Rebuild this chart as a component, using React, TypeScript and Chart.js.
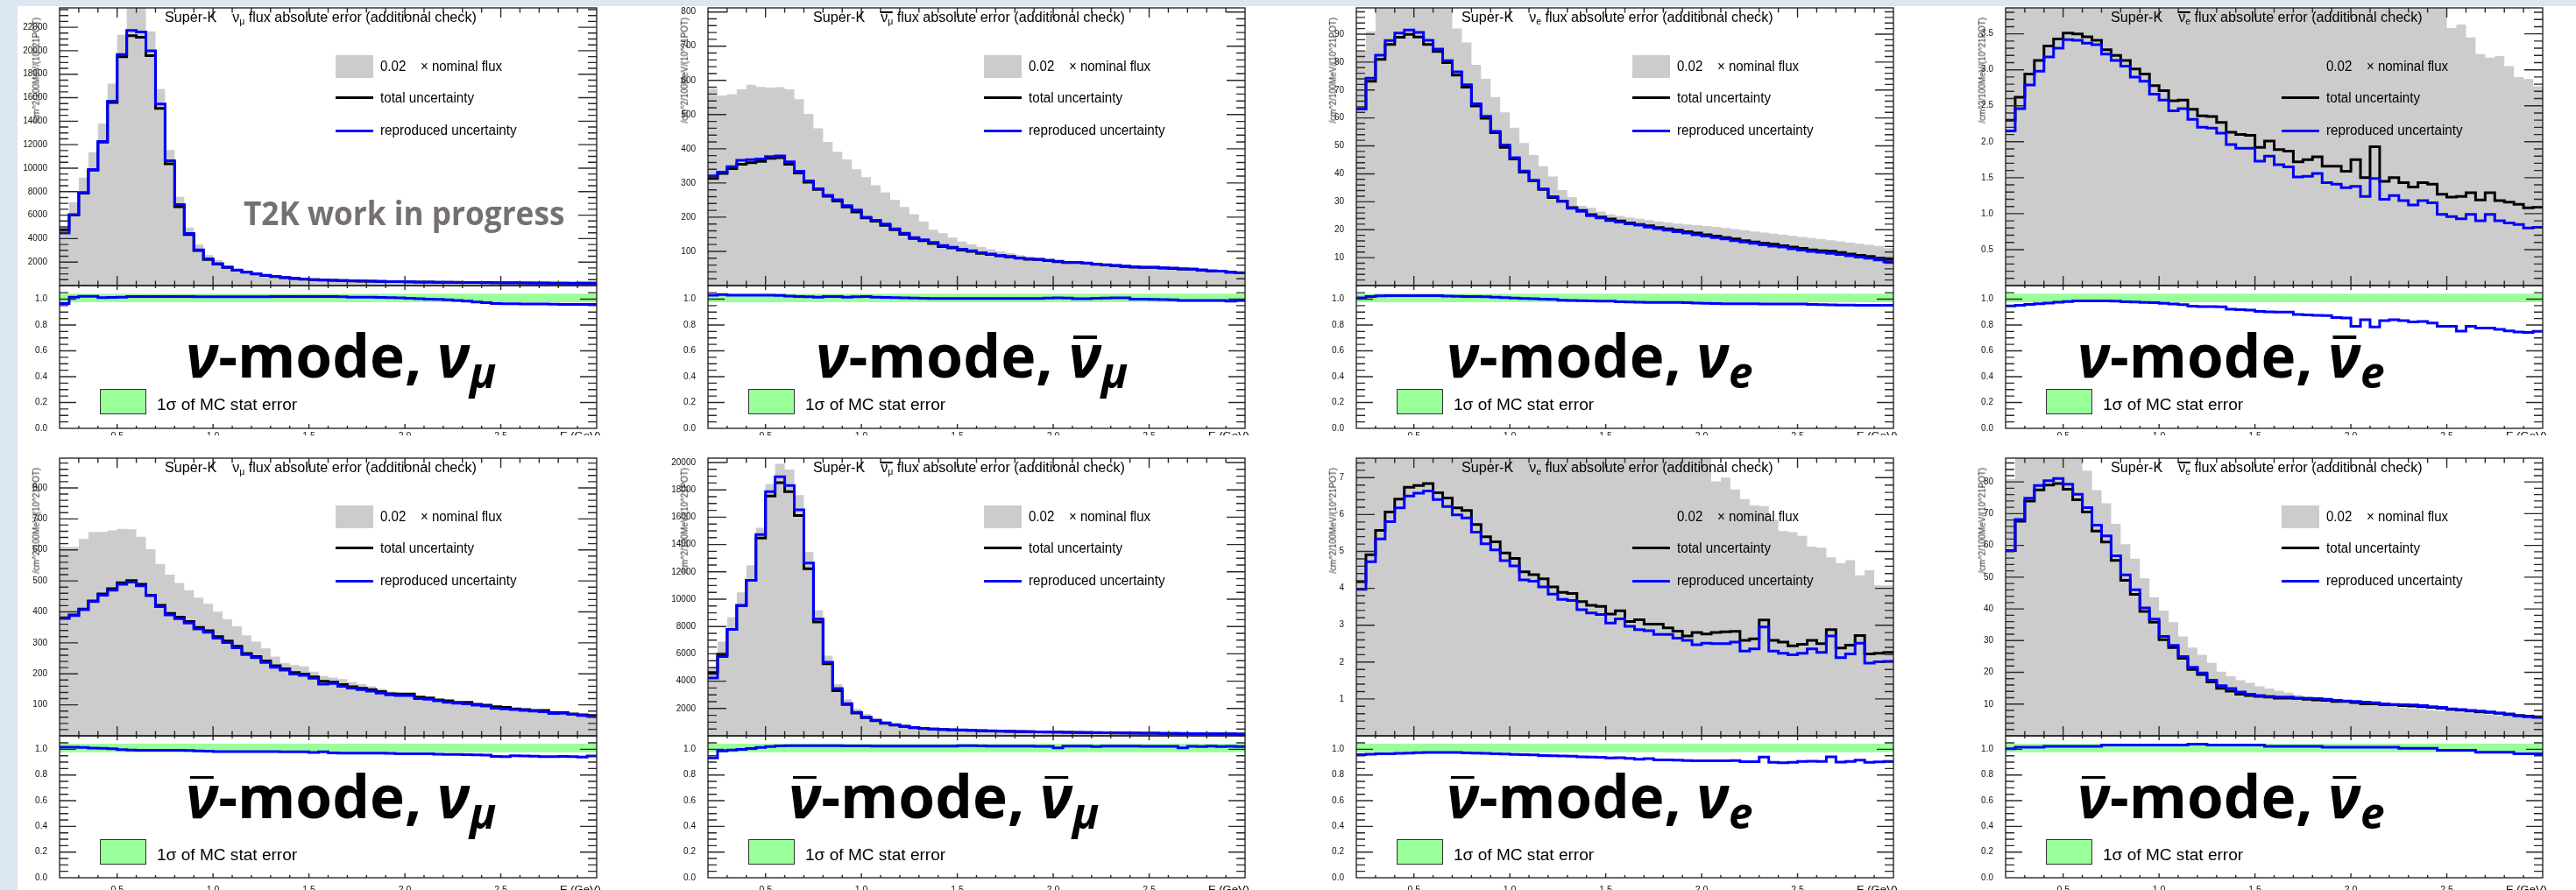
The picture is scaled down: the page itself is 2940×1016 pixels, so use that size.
import React, { useEffect, useLayoutEffect, useRef } from 'react';
import { Chart, registerables } from 'chart.js';

Chart.register(...registerables);

// ---------------- data ----------------
const BIN_LOW_EDGES = [
  0.2, 0.25, 0.3, 0.35, 0.4, 0.45, 0.5, 0.55, 0.6, 0.65,
  0.7, 0.75, 0.8, 0.85, 0.9, 0.95, 1.0, 1.05, 1.1, 1.15,
  1.2, 1.25, 1.3, 1.35, 1.4, 1.45, 1.5, 1.55, 1.6, 1.65,
  1.7, 1.75, 1.8, 1.85, 1.9, 1.95, 2.0, 2.05, 2.1, 2.15,
  2.2, 2.25, 2.3, 2.35, 2.4, 2.45, 2.5, 2.55, 2.6, 2.65,
  2.7, 2.75, 2.8, 2.85, 2.9, 2.95,
];
const X_UPPER_EDGE = 3.0;
const X_MAJOR_TICKS = [0.5, 1.0, 1.5, 2.0, 2.5];
const X_TICK_LABELS = ['0.5', '1.0', '1.5', '2.0', '2.5'];
const X_MINOR_TICKS = [0.3, 0.4, 0.6, 0.7, 0.8, 0.9, 1.1, 1.2, 1.3, 1.4, 1.6, 1.7, 1.8, 1.9, 2.1, 2.2, 2.3, 2.4, 2.6, 2.7, 2.8, 2.9];
const RATIO_Y_TICKS = [0, 0.2, 0.4, 0.6, 0.8, 1.0];
const RATIO_Y_MAX = 1.105;
const MC_STAT_BAND = [0.977, 1.043];

// nu-mode, nu_mu
const FHC_NUMU_NOMINAL = [5000, 7100, 9200, 11350, 13800, 17200, 21350, 24500, 24000, 21650, 16750, 11550, 7550, 4950, 3500, 2600, 2170, 1730, 1380, 1140, 940, 850, 760, 680, 610, 560, 520, 490, 460, 435, 415, 395, 378, 362, 348, 335, 322, 312, 302, 293, 284, 276, 268, 260, 253, 246, 240, 234, 228, 222, 216, 211, 206, 201, 196, 192];
const FHC_NUMU_TOTAL = [4750, 6000, 7880, 9830, 12220, 15600, 19500, 21280, 21160, 19580, 15080, 10370, 6720, 4350, 2990, 2220, 1830, 1540, 1300, 1130, 980, 860, 760, 670, 600, 545, 500, 470, 445, 420, 400, 382, 366, 352, 339, 327, 316, 306, 297, 288, 280, 272, 265, 258, 252, 246, 240, 234, 228, 222, 217, 212, 207, 203, 205, 205];
const FHC_NUMU_REPRO = [4470, 6050, 7930, 9880, 12270, 15700, 19680, 21730, 21600, 20000, 15460, 10640, 6910, 4440, 3040, 2270, 1860, 1570, 1320, 1150, 1000, 875, 775, 683, 612, 556, 510, 479, 453, 428, 407, 388, 371, 357, 343, 331, 318, 307, 297, 287, 278, 269, 261, 254, 246, 239, 232, 226, 220, 214, 209, 204, 199, 195, 197, 197];
const FHC_NUMU_RATIO = [0.966, 1.016, 1.022, 1.022, 1.011, 1.014, 1.016, 1.02, 1.02, 1.02, 1.02, 1.02, 1.02, 1.02, 1.018, 1.018, 1.018, 1.018, 1.018, 1.018, 1.018, 1.018, 1.02, 1.02, 1.02, 1.02, 1.02, 1.02, 1.02, 1.018, 1.016, 1.016, 1.016, 1.014, 1.012, 1.01, 1.006, 1.004, 1.0, 0.998, 0.995, 0.99, 0.985, 0.978, 0.972, 0.966, 0.964, 0.964, 0.963, 0.962, 0.962, 0.961, 0.96, 0.96, 0.96, 0.96];
const FHC_NUMU_Y_TICKS = [2000, 4000, 6000, 8000, 10000, 12000, 14000, 16000, 18000, 20000, 22000];

// nu-mode, nu_mu-bar
const FHC_NUMUBAR_NOMINAL = [575, 556, 560, 574, 587, 581, 579, 580, 574, 545, 502, 460, 420, 391, 369, 340, 317, 293, 272, 251, 230, 209, 187, 163, 153, 140, 129, 121, 113, 106, 100, 95, 89, 85, 80, 77, 74, 71, 68, 66, 64, 62, 60, 58, 56, 55, 54, 53, 52, 51, 49, 47, 45, 43, 41, 38];
const FHC_NUMUBAR_TOTAL = [313, 328, 342, 355, 359, 363, 372, 374, 355, 329, 302, 281, 261, 247, 230, 215, 198, 188, 176, 163, 150, 138, 131, 123, 114, 110, 104, 100, 94, 91, 87, 84, 80, 77, 76, 73, 70, 67, 67, 65, 62, 60, 58, 56, 54, 53, 53, 51, 50, 48, 48, 45, 43, 42, 39, 37];
const FHC_NUMUBAR_REPRO = [321, 332, 348, 366, 368, 370, 377, 379, 362, 334, 306, 283, 264, 251, 234, 221, 200, 191, 180, 166, 153, 140, 134, 126, 117, 112, 106, 102, 96, 92, 88, 85, 81, 78, 77, 74, 71, 68, 68, 66, 63, 61, 59, 57, 55, 54, 54, 52, 51, 49, 48, 46, 43, 42, 39, 37];
const FHC_NUMUBAR_RATIO = [1.03, 1.035, 1.03, 1.03, 1.03, 1.03, 1.03, 1.028, 1.024, 1.02, 1.018, 1.016, 1.02, 1.02, 1.016, 1.018, 1.02, 1.016, 1.014, 1.012, 1.01, 1.008, 1.006, 1.005, 1.005, 1.005, 1.005, 1.005, 1.005, 1.005, 1.005, 1.005, 1.005, 1.005, 1.005, 1.008, 1.01, 1.008, 1.004, 1.004, 1.006, 1.008, 1.01, 1.01, 1.0, 1.0, 0.998, 0.996, 0.994, 0.99, 0.99, 0.99, 0.99, 0.99, 0.985, 0.99];
const FHC_NUMUBAR_Y_TICKS = [100, 200, 300, 400, 500, 600, 700, 800];

// nu-mode, nu_e
const FHC_NUE_NOMINAL = [84, 91, 104, 110, 112, 112, 110, 106, 102, 100, 92, 87, 79, 74, 67.5, 62, 56.5, 51, 46.7, 42.7, 39, 34.2, 31.7, 28.5, 27.8, 26.5, 25.5, 24.9, 24.4, 23.9, 23.4, 23, 22.6, 22.2, 21.9, 21.6, 21.3, 21, 20.6, 20.2, 19.8, 19.4, 19, 18.6, 18.2, 17.8, 17.4, 17, 16.6, 16.2, 15.8, 15.4, 15, 14.6, 14.2, 13.4];
const FHC_NUE_TOTAL = [63.3, 73.1, 81, 86.3, 88.9, 89.9, 89, 86.3, 83.8, 79.8, 75.3, 71, 64.3, 59.9, 54.7, 49.5, 45.3, 40.6, 37.5, 34.4, 31.5, 30.2, 27.9, 26.9, 25.4, 24.5, 23.8, 23.1, 22.4, 21.9, 21.4, 20.8, 20.3, 19.8, 19.3, 18.8, 18.2, 17.7, 17.2, 16.7, 16.1, 15.6, 15.1, 14.8, 14.3, 13.8, 13.3, 12.8, 12.5, 12.3, 11.8, 11.3, 10.8, 10.4, 9.9, 9.4];
const FHC_NUE_REPRO = [63.3, 74.2, 82.5, 87.7, 90.4, 91.5, 90.6, 87.8, 84.7, 80.5, 76.5, 71.9, 65.1, 60.6, 55.2, 50.3, 45.8, 41, 37.7, 34.6, 31.8, 30.2, 27.7, 26.6, 25, 24.2, 23.3, 22.7, 22.1, 21.6, 20.9, 20.4, 19.8, 19.3, 18.8, 18.2, 17.7, 17.2, 16.7, 16.1, 15.6, 15.1, 14.6, 14.1, 13.8, 13.2, 12.7, 12.2, 11.9, 11.5, 11.1, 10.7, 10.2, 9.8, 9.2, 8.5];
const FHC_NUE_RATIO = [1.01, 1.02, 1.026, 1.027, 1.027, 1.027, 1.027, 1.027, 1.027, 1.024, 1.022, 1.02, 1.02, 1.018, 1.016, 1.012, 1.008, 1.005, 1.003, 1.0, 0.998, 0.992, 0.99, 0.988, 0.986, 0.985, 0.985, 0.98, 0.978, 0.976, 0.975, 0.975, 0.975, 0.974, 0.972, 0.97, 0.968, 0.966, 0.965, 0.965, 0.964, 0.964, 0.963, 0.962, 0.962, 0.962, 0.962, 0.96, 0.958, 0.956, 0.955, 0.954, 0.952, 0.952, 0.952, 0.952];
const FHC_NUE_Y_TICKS = [10, 20, 30, 40, 50, 60, 70, 80, 90];

// nu-mode, nu_e-bar
const FHC_NUEBAR_NOMINAL = [6.0, 7.2, 8.2, 8.8, 9.1, 9.2, 9.1, 8.9, 8.6, 8.2, 7.8, 7.4, 7.0, 6.7, 6.4, 6.1, 5.8, 5.6, 5.4, 5.2, 5.0, 4.9, 4.8, 4.7, 4.6, 4.5, 4.45, 4.4, 4.35, 4.3, 4.25, 4.2, 4.15, 4.1, 4.05, 4.0, 3.98, 3.96, 3.94, 3.92, 3.92, 3.92, 3.92, 3.92, 3.92, 3.92, 3.58, 3.63, 3.45, 3.22, 3.17, 3.19, 3.05, 2.9, 2.87, 2.77];
const FHC_NUEBAR_TOTAL = [2.30, 2.62, 2.94, 3.13, 3.33, 3.43, 3.51, 3.50, 3.46, 3.41, 3.28, 3.20, 3.13, 3.01, 2.94, 2.78, 2.71, 2.57, 2.58, 2.45, 2.36, 2.35, 2.27, 2.13, 2.10, 2.09, 1.92, 2.01, 1.89, 1.87, 1.72, 1.75, 1.79, 1.66, 1.66, 1.59, 1.75, 1.50, 1.93, 1.45, 1.50, 1.43, 1.37, 1.43, 1.41, 1.27, 1.23, 1.24, 1.29, 1.19, 1.29, 1.18, 1.16, 1.13, 1.08, 1.09];
const FHC_NUEBAR_REPRO = [2.15, 2.46, 2.79, 2.98, 3.18, 3.30, 3.42, 3.41, 3.37, 3.35, 3.22, 3.13, 3.05, 2.90, 2.84, 2.66, 2.58, 2.43, 2.46, 2.31, 2.20, 2.19, 2.12, 1.96, 1.91, 1.91, 1.73, 1.80, 1.68, 1.65, 1.51, 1.52, 1.56, 1.43, 1.41, 1.36, 1.38, 1.24, 1.49, 1.20, 1.25, 1.18, 1.12, 1.18, 1.15, 0.99, 0.96, 0.93, 0.99, 0.90, 0.99, 0.90, 0.87, 0.85, 0.80, 0.81];
const FHC_NUEBAR_RATIO = [0.948, 0.952, 0.959, 0.964, 0.97, 0.977, 0.982, 0.986, 0.986, 0.986, 0.986, 0.984, 0.98, 0.978, 0.975, 0.972, 0.968, 0.962, 0.958, 0.945, 0.943, 0.943, 0.94, 0.922, 0.918, 0.915, 0.905, 0.902, 0.9, 0.9, 0.882, 0.878, 0.875, 0.872, 0.858, 0.855, 0.79, 0.84, 0.785, 0.834, 0.841, 0.834, 0.823, 0.827, 0.816, 0.79, 0.79, 0.752, 0.79, 0.777, 0.777, 0.766, 0.755, 0.745, 0.743, 0.75];
const FHC_NUEBAR_Y_TICKS = [0.5, 1.0, 1.5, 2.0, 2.5, 3.0, 3.5];

// nubar-mode, nu_mu
const RHC_NUMU_NOMINAL = [610, 610, 635, 658, 658, 663, 668, 666, 642, 602, 555, 520, 493, 470, 446, 426, 401, 376, 353, 324, 304, 282, 256, 235, 228, 224, 207, 193, 188, 183, 174, 167, 160, 152, 143, 139, 134, 125, 121, 116, 112, 108, 105, 101, 98, 94, 91, 87, 84, 81, 79, 75, 73, 70, 67, 64];
const RHC_NUMU_TOTAL = [381, 390, 409, 435, 458, 475, 494, 501, 489, 454, 421, 395, 383, 369, 350, 339, 320, 306, 289, 266, 256, 242, 226, 216, 204, 199, 190, 176, 173, 165, 158, 153, 149, 143, 136, 135, 135, 125, 122, 116, 113, 108, 108, 102, 99, 94, 92, 87, 85, 82, 82, 75, 75, 71, 68, 66];
const RHC_NUMU_REPRO = [379, 388, 407, 433, 454, 470, 489, 496, 484, 452, 417, 390, 378, 364, 345, 334, 315, 301, 284, 262, 252, 237, 221, 212, 199, 195, 186, 167, 169, 160, 154, 149, 144, 138, 132, 130, 130, 120, 118, 113, 108, 105, 103, 99, 96, 89, 87, 85, 82, 80, 78, 72, 73, 69, 66, 63];
const RHC_NUMU_RATIO = [1.016, 1.016, 1.014, 1.01, 1.007, 1.005, 0.998, 0.995, 0.993, 0.993, 0.993, 0.993, 0.993, 0.99, 0.988, 0.985, 0.982, 0.982, 0.982, 0.982, 0.982, 0.982, 0.982, 0.98, 0.98, 0.98, 0.975, 0.98, 0.972, 0.971, 0.971, 0.971, 0.971, 0.97, 0.968, 0.966, 0.966, 0.966, 0.965, 0.962, 0.96, 0.96, 0.958, 0.956, 0.955, 0.945, 0.943, 0.95, 0.948, 0.946, 0.943, 0.943, 0.945, 0.943, 0.939, 0.948];
const RHC_NUMU_Y_TICKS = [100, 200, 300, 400, 500, 600, 700, 800];

// nubar-mode, nu_mu-bar
const RHC_NUMUBAR_NOMINAL = [5017, 6896, 8689, 10504, 12490, 15223, 18425, 19898, 19492, 17614, 13451, 9181, 5871, 3779, 2669, 1964, 1601, 1281, 1068, 897, 747, 640, 560, 510, 475, 450, 428, 405, 385, 366, 349, 334, 320, 307, 295, 284, 273, 263, 254, 245, 236, 228, 220, 212, 205, 198, 191, 184, 177, 171, 165, 159, 153, 147, 141, 135];
const RHC_NUMUBAR_TOTAL = [4633, 5978, 7793, 9543, 11380, 14475, 17550, 18532, 17870, 16119, 12234, 8326, 5273, 3309, 2284, 1665, 1324, 1110, 918, 790, 683, 600, 535, 490, 458, 435, 415, 393, 374, 356, 340, 325, 312, 299, 288, 277, 266, 256, 247, 238, 230, 222, 214, 207, 200, 193, 186, 180, 174, 168, 162, 156, 150, 144, 138, 132];
const RHC_NUMUBAR_REPRO = [4227, 5807, 7793, 9543, 11380, 14731, 17870, 18959, 18318, 16546, 12639, 8540, 5380, 3459, 2348, 1710, 1360, 1138, 941, 810, 700, 615, 548, 502, 469, 446, 426, 403, 383, 365, 348, 333, 320, 306, 295, 284, 269, 262, 253, 244, 236, 227, 219, 212, 205, 198, 191, 184, 178, 170, 166, 160, 154, 147, 141, 135];
const RHC_NUMUBAR_RATIO = [0.932, 0.988, 0.995, 1.0, 1.006, 1.014, 1.022, 1.027, 1.028, 1.028, 1.028, 1.028, 1.028, 1.028, 1.026, 1.026, 1.026, 1.025, 1.025, 1.025, 1.025, 1.025, 1.025, 1.025, 1.025, 1.025, 1.028, 1.028, 1.026, 1.025, 1.025, 1.025, 1.025, 1.025, 1.024, 1.024, 1.012, 1.025, 1.025, 1.025, 1.022, 1.025, 1.025, 1.025, 1.025, 1.024, 1.024, 1.024, 1.024, 1.012, 1.024, 1.022, 1.025, 1.022, 1.024, 1.022];
const RHC_NUMUBAR_Y_TICKS = [2000, 4000, 6000, 8000, 10000, 12000, 14000, 16000, 18000, 20000];

// nubar-mode, nu_e
const RHC_NUE_NOMINAL = [10, 12, 13.5, 14.5, 15, 15.2, 15, 14.6, 14, 13.4, 12.8, 12.2, 11.6, 11.1, 10.6, 10.2, 9.9, 9.6, 9.4, 9.2, 9.0, 8.8, 8.7, 8.6, 8.5, 8.4, 8.3, 8.2, 8.1, 8.0, 7.95, 7.9, 7.85, 7.8, 7.75, 7.7, 7.65, 6.9, 7.0, 6.68, 6.42, 6.25, 6.23, 5.85, 5.55, 5.52, 5.42, 5.13, 5.1, 4.84, 4.68, 4.76, 4.35, 4.49, 4.08, 4.08];
const RHC_NUE_TOTAL = [4.18, 4.91, 5.57, 6.07, 6.42, 6.74, 6.79, 6.84, 6.59, 6.45, 6.18, 6.11, 5.73, 5.40, 5.26, 4.96, 4.81, 4.45, 4.37, 4.26, 4.04, 3.89, 3.86, 3.64, 3.54, 3.51, 3.30, 3.39, 3.10, 3.15, 3.03, 3.03, 2.93, 2.84, 2.71, 2.80, 2.76, 2.80, 2.82, 2.83, 2.59, 2.63, 3.14, 2.59, 2.54, 2.44, 2.48, 2.59, 2.50, 2.88, 2.38, 2.46, 2.72, 2.22, 2.24, 2.26];
const RHC_NUE_REPRO = [3.97, 4.72, 5.34, 5.81, 6.18, 6.50, 6.58, 6.64, 6.41, 6.22, 5.99, 5.91, 5.52, 5.21, 5.04, 4.75, 4.61, 4.23, 4.19, 4.04, 3.84, 3.70, 3.67, 3.42, 3.33, 3.29, 3.06, 3.17, 2.97, 2.88, 2.85, 2.75, 2.75, 2.65, 2.59, 2.47, 2.51, 2.50, 2.50, 2.54, 2.30, 2.36, 2.95, 2.30, 2.24, 2.20, 2.24, 2.36, 2.26, 2.71, 2.12, 2.22, 2.51, 1.97, 2.01, 2.02];
const RHC_NUE_RATIO = [0.959, 0.962, 0.966, 0.966, 0.968, 0.97, 0.973, 0.975, 0.975, 0.975, 0.975, 0.972, 0.97, 0.968, 0.966, 0.964, 0.96, 0.958, 0.956, 0.952, 0.95, 0.948, 0.946, 0.942, 0.94, 0.938, 0.932, 0.934, 0.93, 0.922, 0.928, 0.918, 0.918, 0.916, 0.912, 0.91, 0.91, 0.91, 0.91, 0.912, 0.904, 0.903, 0.94, 0.898, 0.896, 0.898, 0.905, 0.908, 0.905, 0.942, 0.9, 0.905, 0.915, 0.898, 0.902, 0.905];
const RHC_NUE_Y_TICKS = [1, 2, 3, 4, 5, 6, 7];

// nubar-mode, nu_e-bar
const RHC_NUEBAR_NOMINAL = [80.9, 92, 98, 101, 102, 100, 96, 92, 83.6, 77.4, 73.3, 66.8, 60.4, 55.8, 49.6, 43.7, 39.5, 35.8, 31.3, 27.8, 25.5, 23, 20.2, 18.8, 17.5, 16.7, 15.6, 14.9, 14.2, 13.6, 12.9, 12.4, 12.0, 11.6, 11.2, 10.8, 10.4, 10.0, 9.7, 9.4, 9.1, 8.9, 8.6, 8.4, 8.1, 7.9, 7.6, 7.4, 7.1, 6.9, 6.7, 6.5, 6.2, 6.0, 5.8, 5.6];
const RHC_NUEBAR_TOTAL = [58.4, 67.6, 74, 77.5, 79, 79.5, 77.7, 74.4, 70.5, 64.5, 61.1, 55.3, 49, 44.6, 39.2, 35.8, 30.3, 27.8, 24.4, 20.9, 19.3, 17, 15, 14.1, 13.1, 12.7, 12.4, 12.2, 11.9, 11.9, 11.8, 11.5, 11.3, 11.2, 10.8, 10.8, 10.5, 10.1, 10.1, 9.8, 9.7, 9.5, 9.4, 9.2, 9.0, 8.7, 8.3, 8.1, 7.8, 7.5, 7.4, 7.1, 6.7, 6.4, 6.2, 6.0];
const RHC_NUEBAR_REPRO = [58.4, 68.2, 74.9, 78.9, 80.4, 81.1, 79.3, 76.1, 71.9, 66.4, 63, 56.7, 50.7, 46, 40.3, 36.8, 31.3, 28.5, 25, 21.6, 19.8, 17.5, 15.8, 14.9, 13.8, 13.1, 12.7, 12.4, 12.2, 12.2, 11.9, 11.8, 11.7, 11.5, 11.2, 11.0, 10.8, 10.6, 10.4, 10.1, 9.9, 9.8, 9.7, 9.5, 9.2, 9.0, 8.5, 8.3, 8.0, 7.8, 7.5, 7.2, 6.9, 6.3, 6.0, 5.8];
const RHC_NUEBAR_RATIO = [1.005, 1.016, 1.016, 1.016, 1.023, 1.023, 1.023, 1.023, 1.023, 1.023, 1.034, 1.034, 1.034, 1.034, 1.034, 1.034, 1.034, 1.034, 1.034, 1.041, 1.041, 1.034, 1.034, 1.034, 1.034, 1.034, 1.034, 1.023, 1.023, 1.023, 1.023, 1.023, 1.023, 1.016, 1.016, 1.016, 1.016, 1.016, 1.016, 1.016, 1.016, 1.007, 1.007, 1.007, 1.007, 0.993, 0.993, 0.993, 0.993, 0.977, 0.977, 0.977, 0.977, 0.966, 0.966, 0.966];
const RHC_NUEBAR_Y_TICKS = [10, 20, 30, 40, 50, 60, 70, 80];

// ---------------- styling / geometry ----------------
const LIGHT_BLUE = '#dde7f3';
const SANS = '"Liberation Sans", Arial, Helvetica, sans-serif';
const BIG = '"Open Sans", "Noto Sans", sans-serif';
const SANS_ASC = 0.8465;
const BIG_ASC = 0.888;
const GRAY = '#cccccc';
const GREEN = '#99ff99';
const BLUE = '#0000ff';

const COL_X = [68, 808, 1548, 2289];
const FRAME_W = 613;
const AXIS_W = 60;
const ROW_GEOM = [
  { top: 9, split: 326, bottom: 489, clip: 497, xBase: 12, labelBase: 105.5 },
  { top: 523, split: 840, bottom: 1002, clip: 1016, xBase: 17, labelBase: 94 },
];

const PANELS = [
  { id: 'fhc-numu', col: 0, row: 0, nominal: FHC_NUMU_NOMINAL, total: FHC_NUMU_TOTAL, repro: FHC_NUMU_REPRO, ratio: FHC_NUMU_RATIO, yTicks: FHC_NUMU_Y_TICKS, yMax: 23650, yMinor: 500, yDec: 0, antiMode: false, antiFlav: false, flav: 'μ', label: [144, 498], wip: true },
  { id: 'fhc-numubar', col: 1, row: 0, nominal: FHC_NUMUBAR_NOMINAL, total: FHC_NUMUBAR_TOTAL, repro: FHC_NUMUBAR_REPRO, ratio: FHC_NUMUBAR_RATIO, yTicks: FHC_NUMUBAR_Y_TICKS, yMax: 812, yMinor: 20, yDec: 0, antiMode: false, antiFlav: true, flav: 'μ', label: [123, 479], wip: false },
  { id: 'fhc-nue', col: 2, row: 0, nominal: FHC_NUE_NOMINAL, total: FHC_NUE_TOTAL, repro: FHC_NUE_REPRO, ratio: FHC_NUE_RATIO, yTicks: FHC_NUE_Y_TICKS, yMax: 99.4, yMinor: 2, yDec: 0, antiMode: false, antiFlav: false, flav: 'e', label: [103, 453], wip: false },
  { id: 'fhc-nuebar', col: 3, row: 0, nominal: FHC_NUEBAR_NOMINAL, total: FHC_NUEBAR_TOTAL, repro: FHC_NUEBAR_REPRO, ratio: FHC_NUEBAR_RATIO, yTicks: FHC_NUEBAR_Y_TICKS, yMax: 3.861, yMinor: 0.1, yDec: 1, antiMode: false, antiFlav: true, flav: 'e', label: [82, 433], wip: false },
  { id: 'rhc-numu', col: 0, row: 1, nominal: RHC_NUMU_NOMINAL, total: RHC_NUMU_TOTAL, repro: RHC_NUMU_REPRO, ratio: RHC_NUMU_RATIO, yTicks: RHC_NUMU_Y_TICKS, yMax: 896, yMinor: 20, yDec: 0, antiMode: true, antiFlav: false, flav: 'μ', label: [144, 498], wip: false },
  { id: 'rhc-numubar', col: 1, row: 1, nominal: RHC_NUMUBAR_NOMINAL, total: RHC_NUMUBAR_TOTAL, repro: RHC_NUMUBAR_REPRO, ratio: RHC_NUMUBAR_RATIO, yTicks: RHC_NUMUBAR_Y_TICKS, yMax: 20320, yMinor: 500, yDec: 0, antiMode: true, antiFlav: true, flav: 'μ', label: [92, 446], wip: false },
  { id: 'rhc-nue', col: 2, row: 1, nominal: RHC_NUE_NOMINAL, total: RHC_NUE_TOTAL, repro: RHC_NUE_REPRO, ratio: RHC_NUE_RATIO, yTicks: RHC_NUE_Y_TICKS, yMax: 7.53, yMinor: 0.2, yDec: 0, antiMode: true, antiFlav: false, flav: 'e', label: [103, 453], wip: false },
  { id: 'rhc-nuebar', col: 3, row: 1, nominal: RHC_NUEBAR_NOMINAL, total: RHC_NUEBAR_TOTAL, repro: RHC_NUEBAR_REPRO, ratio: RHC_NUEBAR_RATIO, yTicks: RHC_NUEBAR_Y_TICKS, yMax: 87.5, yMinor: 2, yDec: 0, antiMode: true, antiFlav: true, flav: 'e', label: [82, 433], wip: false },
];

// ---------------- helpers ----------------
function histPoints(vals: number[]) {
  const pts = vals.map((v, i) => ({ x: BIN_LOW_EDGES[i], y: v }));
  pts.push({ x: X_UPPER_EDGE, y: vals[vals.length - 1] });
  return pts;
}

function minorTicks(max: number, step: number, majorStep: number) {
  const out: number[] = [];
  for (let k = 1; k * step < max; k++) {
    const v = +(k * step).toFixed(6);
    const r = v / majorStep;
    if (Math.abs(r - Math.round(r)) > 1e-6) out.push(v);
  }
  return out;
}

function framePlugin(cfg: any) {
  return {
    id: 'rootFrame',
    afterDatasetsDraw(chart: any) {
      const { ctx, chartArea: a } = chart;
      const xs = chart.scales.x;
      const ys = chart.scales.y;
      ctx.save();
      ctx.strokeStyle = '#2a2a2a';
      ctx.lineWidth = 1.4;
      ctx.beginPath();
      const vt = (vals: number[], len: number) => {
        for (const v of vals) {
          if (v <= ys.min || v >= ys.max) continue;
          const py = ys.getPixelForValue(v);
          ctx.moveTo(a.left, py); ctx.lineTo(a.left + len, py);
          ctx.moveTo(a.right, py); ctx.lineTo(a.right - len, py);
        }
      };
      const ht = (vals: number[], len: number) => {
        for (const v of vals) {
          if (v <= xs.min || v >= xs.max) continue;
          const px = xs.getPixelForValue(v);
          ctx.moveTo(px, a.bottom); ctx.lineTo(px, a.bottom - len);
          ctx.moveTo(px, a.top); ctx.lineTo(px, a.top + len);
        }
      };
      vt(cfg.yMajor, cfg.yMajorLen);
      vt(cfg.yMinor, cfg.yMinorLen);
      ht(X_MAJOR_TICKS, cfg.xMajorLen);
      ht(X_MINOR_TICKS, cfg.xMinorLen);
      ctx.stroke();
      ctx.lineWidth = 1.3;
      ctx.strokeStyle = '#1a1a1a';
      ctx.strokeRect(a.left, a.top, a.right - a.left, a.bottom - a.top);
      if (cfg.xLabelBase) {
        ctx.fillStyle = '#111';
        ctx.font = `10.5px ${SANS}`;
        ctx.textAlign = 'center';
        ctx.textBaseline = 'alphabetic';
        X_MAJOR_TICKS.forEach((v, i) => {
          ctx.fillText(X_TICK_LABELS[i], xs.getPixelForValue(v), a.bottom + cfg.xLabelBase);
        });
      }
      ctx.restore();
    },
  };
}

const tickFont = { family: SANS, size: 10 };

function mainConfig(p: any) {
  const majorStep = p.yTicks[1] - p.yTicks[0];
  return {
    type: 'line',
    data: {
      datasets: [
        { data: histPoints(p.repro), borderColor: BLUE, borderWidth: 3, stepped: 'before', pointRadius: 0, fill: false, borderJoinStyle: 'miter' },
        { data: histPoints(p.total), borderColor: '#000000', borderWidth: 3, stepped: 'before', pointRadius: 0, fill: false, borderJoinStyle: 'miter' },
        { data: histPoints(p.nominal), borderColor: 'rgba(0,0,0,0)', borderWidth: 0, backgroundColor: GRAY, stepped: 'before', pointRadius: 0, fill: 'origin' },
      ],
    },
    options: {
      responsive: false,
      animation: false,
      events: [],
      layout: { padding: { left: 0, right: 6, top: 10, bottom: 4 } },
      scales: {
        x: { type: 'linear', min: 0.2, max: X_UPPER_EDGE, display: false },
        y: {
          type: 'linear', min: 0, max: p.yMax,
          grid: { display: false }, border: { display: false },
          ticks: { padding: 6, font: tickFont, color: '#111', autoSkip: false, callback: (v: any) => Number(v).toFixed(p.yDec) },
          afterBuildTicks: (s: any) => { s.ticks = p.yTicks.map((v: number) => ({ value: v })); },
          afterFit: (s: any) => { s.width = AXIS_W; s.paddingTop = 0; s.paddingBottom = 0; },
        },
      },
      plugins: { legend: { display: false }, tooltip: { enabled: false } },
    },
    plugins: [framePlugin({ yMajor: p.yTicks, yMinor: minorTicks(p.yMax, p.yMinor, majorStep), yMajorLen: 21, yMinorLen: 10, xMajorLen: 11, xMinorLen: 5.5 })],
  };
}

function ratioConfig(p: any, xBase: number) {
  return {
    type: 'line',
    data: {
      datasets: [
        { data: histPoints(p.ratio), borderColor: BLUE, borderWidth: 3, stepped: 'before', pointRadius: 0, fill: false, borderJoinStyle: 'miter' },
        { data: [{ x: 0.2, y: MC_STAT_BAND[1] }, { x: X_UPPER_EDGE, y: MC_STAT_BAND[1] }], borderColor: 'rgba(0,0,0,0)', borderWidth: 0, backgroundColor: GREEN, pointRadius: 0, fill: { value: MC_STAT_BAND[0] } },
      ],
    },
    options: {
      responsive: false,
      animation: false,
      events: [],
      layout: { padding: { left: 0, right: 6, top: 6, bottom: 24 } },
      scales: {
        x: { type: 'linear', min: 0.2, max: X_UPPER_EDGE, display: false },
        y: {
          type: 'linear', min: 0, max: RATIO_Y_MAX,
          grid: { display: false }, border: { display: false },
          ticks: { padding: 6, font: tickFont, color: '#111', autoSkip: false, callback: (v: any) => Number(v).toFixed(1) },
          afterBuildTicks: (s: any) => { s.ticks = RATIO_Y_TICKS.map((v) => ({ value: v })); },
          afterFit: (s: any) => { s.width = AXIS_W; s.paddingTop = 0; s.paddingBottom = 0; },
        },
      },
      plugins: { legend: { display: false }, tooltip: { enabled: false } },
    },
    plugins: [framePlugin({ yMajor: RATIO_Y_TICKS, yMinor: minorTicks(1.1, 0.05, 0.2), yMajorLen: 19, yMinorLen: 10, xMajorLen: 5, xMinorLen: 3, xLabelBase: xBase })],
  };
}

function ChartCanvas({ left, top, width, height, make }: any) {
  const ref = useRef<HTMLCanvasElement>(null);
  useEffect(() => {
    const c = new Chart(ref.current as any, make());
    return () => c.destroy();
  }, []);
  return <canvas ref={ref} width={width} height={height} style={{ position: 'absolute', left, top, width, height }} />;
}

function FitText({ x, baseline, width, size, family = SANS, asc = SANS_ASC, weight = 400, color = '#000', children }: any) {
  const ref = useRef<HTMLDivElement>(null);
  useLayoutEffect(() => {
    const el = ref.current;
    if (!el) return;
    const w = el.offsetWidth;
    if (w > 0) el.style.transform = `scaleX(${width / w})`;
  });
  return (
    <div ref={ref} style={{ position: 'absolute', left: x, top: baseline - asc * size, fontSize: size, lineHeight: 1, fontFamily: family, fontWeight: weight, color, whiteSpace: 'pre', transformOrigin: '0 0' }}>
      {children}
    </div>
  );
}

function RotText({ cx, yTop, length, size, children }: any) {
  const ref = useRef<HTMLDivElement>(null);
  useLayoutEffect(() => {
    const el = ref.current;
    if (!el) return;
    const w = el.offsetWidth;
    if (w > 0) el.style.transform = `rotate(-90deg) scaleX(${length / w}) translate(-100%, -50%)`;
  });
  return (
    <div ref={ref} style={{ position: 'absolute', left: cx, top: yTop, fontSize: size, lineHeight: 1, fontFamily: SANS, color: '#222', whiteSpace: 'pre', transformOrigin: '0 0' }}>
      {children}
    </div>
  );
}

function TitleNu({ bar, sub }: any) {
  return (
    <span style={{ position: 'relative', display: 'inline-block' }}>
      ν<span style={{ fontSize: '0.65em', position: 'relative', top: '0.32em' }}>{sub}</span>
      {bar && <span style={{ position: 'absolute', left: 0, right: 0, top: 1, height: 1.5, background: '#000' }} />}
    </span>
  );
}

function BigNu({ bar }: any) {
  return (
    <span style={{ position: 'relative', display: 'inline-block', fontStyle: 'italic', fontWeight: 700 }}>
      ν
      {bar && <span style={{ position: 'absolute', left: '14%', width: '72%', top: 12, height: 3.5, background: '#000' }} />}
    </span>
  );
}

function Panel({ p }: any) {
  const fl = COL_X[p.col];
  const r = ROW_GEOM[p.row];
  const ft = r.top;
  const rs = r.split;
  const cw = FRAME_W + AXIS_W + 6;
  const ratioWrapTop = rs - 6;
  const ratioCanvasH = r.bottom - rs + 6 + 24;
  const xLabelBase = r.bottom - ratioWrapTop + r.xBase;
  return (
    <>
      <ChartCanvas left={fl - AXIS_W} top={ft - 10} width={cw} height={rs - ft + 14} make={() => mainConfig(p)} />
      <div style={{ position: 'absolute', left: fl - AXIS_W, top: ratioWrapTop, width: cw + 10, height: r.clip - ratioWrapTop, overflow: 'hidden' }}>
        <ChartCanvas left={0} top={0} width={cw} height={ratioCanvasH} make={() => ratioConfig(p, r.xBase)} />
        <FitText x={AXIS_W + 571} baseline={xLabelBase} width={47} size={10.5}>E (GeV)</FitText>
      </div>

      {/* title */}
      <FitText x={fl + 120.4} baseline={ft + 16.7} width={356} size={16}>
        {'Super-K    '}<TitleNu bar={p.antiFlav} sub={p.flav} />{' flux absolute error (additional check)'}
      </FitText>

      {/* legend */}
      <div style={{ position: 'absolute', left: fl + 315, top: ft + 53.5, width: 43, height: 26.5, background: GRAY }} />
      <div style={{ position: 'absolute', left: fl + 315, top: ft + 101.2, width: 43, height: 3, background: '#000' }} />
      <div style={{ position: 'absolute', left: fl + 315, top: ft + 139.2, width: 43, height: 3, background: BLUE }} />
      <FitText x={fl + 366} baseline={ft + 73} width={139} size={16}>{'0.02    × nominal flux'}</FitText>
      <FitText x={fl + 366} baseline={ft + 108.5} width={107} size={16}>total uncertainty</FitText>
      <FitText x={fl + 366} baseline={ft + 145.7} width={156} size={16}>reproduced uncertainty</FitText>

      {/* y axis title */}
      <RotText cx={fl - 27} yTop={ft + 11} length={121} size={10.5}>/cm^2/100MeV/(10^21POT)</RotText>

      {p.wip && (
        <FitText x={fl + 210} baseline={ft + 247.4} width={366} size={37} family={BIG} asc={BIG_ASC} weight={700} color="#767171">
          T2K work in progress
        </FitText>
      )}

      {/* ratio legend */}
      <div style={{ position: 'absolute', left: fl + 46.3, top: rs + 117.7, width: 53, height: 29.3, background: GREEN, border: '1px solid #333', boxSizing: 'border-box' }} />
      <FitText x={fl + 111} baseline={rs + 142} width={160} size={18}>1σ of MC stat error</FitText>

      {/* big label */}
      <FitText x={fl + p.label[0]} baseline={rs + r.labelBase} width={p.label[1] - p.label[0]} size={68} family={BIG} asc={BIG_ASC} weight={700}>
        <BigNu bar={p.antiMode} />
        <span>{'-mode, '}</span>
        <BigNu bar={p.antiFlav} />
        <span style={{ fontSize: 50, fontStyle: 'italic', fontWeight: 700, position: 'relative', top: 12 }}>{p.flav}</span>
      </FitText>
    </>
  );
}

export default function App() {
  useLayoutEffect(() => {
    document.body.style.margin = '0';
    document.body.style.overflow = 'hidden';
  }, []);
  return (
    <div style={{ position: 'relative', width: 2940, height: 1016, overflow: 'hidden', background: '#ffffff', fontFamily: SANS }}>
      <div style={{ position: 'absolute', left: 0, top: 0, width: 2940, height: 7, background: LIGHT_BLUE }} />
      <div style={{ position: 'absolute', left: 0, top: 0, width: 20, height: 1016, background: LIGHT_BLUE }} />
      {PANELS.map((p) => (
        <Panel key={p.id} p={p} />
      ))}
    </div>
  );
}
